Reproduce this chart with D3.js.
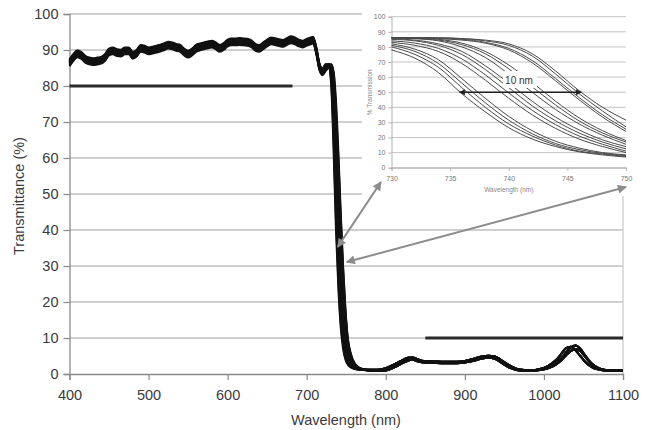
<!DOCTYPE html>
<html><head><meta charset="utf-8">
<script src="https://cdn.jsdelivr.net/npm/d3@7"></script>
<style>html,body{margin:0;padding:0;background:#fff;}svg{display:block;font-family:"Liberation Sans",Arial,sans-serif;}</style>
</head><body>
<script>
// ---------- DATA ----------
const xTicks = [400, 500, 600, 700, 800, 900, 1000, 1100];
const yTicks = [0, 10, 20, 30, 40, 50, 60, 70, 80, 90, 100];
const insetXTicks = [730, 735, 740, 745, 750];
const insetYTicks = [0, 10, 20, 30, 40, 50, 60, 70, 80, 90, 100];

// passband (shared shape) and per-curve level offsets
const passWl =   [400,405,410,415,420,425,430,435,440,445,450,455,460,465,470,475,480,485,490,495,500,505,510,515,520,525,530,535,540,545,550,555,560,565,570,575,580,585,590,595,600,605,610,615,620,625,630,635,640,645,650,655,660,665,670,675,680,685,690,695,700,705,708,712,716,720,724];
const passBase = [86.5,88,89,88.5,87.5,87,86.8,87,87.2,88,89.5,89.8,89.3,89.2,89.8,89.8,88.6,89.2,90.5,90.3,89.8,90,90.3,90.6,91,91.4,91.2,90.8,90.5,89.5,88.9,89.5,90.5,90.9,91.2,91.5,91.7,91.2,90.5,91,92,92.3,92.3,92.4,92.3,92.2,91.8,90.8,90.5,91.2,92,92.6,92.4,92.1,91.9,92.4,92.9,92.6,92,91.7,92.2,92.6,92.8,90,85.5,84,85.2];
const passOffset = [-1.0,-0.5,0.2,0.6,-0.8,0.0,0.4,0.9,-0.3,0.7,-0.6,0.1,0.5,-0.2,0.3];

// main-chart edge, per curve
const edgeWl = [728,731,734,737,740,743,746,749,752,756,760,766,772];
const mainEdge = [
  [85,80,62,40,24,13,7,4,2.6,1.8,1.4,1.2,1.1],
  [85,81,65,43,26,14.5,8,4.5,2.9,1.9,1.5,1.2,1.1],
  [85.5,82,68,47,29,16.5,9,5,3.1,2,1.5,1.2,1.1],
  [85.5,82.5,70,50,32,18.5,10.5,5.8,3.5,2.2,1.6,1.3,1.1],
  [85.5,83,72,53,35,21,12,6.6,3.9,2.4,1.7,1.3,1.1],
  [86,83.5,74,56,38,23.5,13.5,7.5,4.3,2.6,1.8,1.4,1.2],
  [86,84,75.5,58.5,41,26,15,8.4,4.8,2.9,2,1.4,1.2],
  [86,84.5,77,61,44,28.5,17,9.5,5.4,3.2,2.1,1.5,1.2],
  [86,85,78.5,63.5,47,31,19,10.5,6,3.5,2.3,1.5,1.2],
  [86,85,79.5,66,50,34,21,12,6.8,3.8,2.4,1.6,1.2],
  [86,85.5,80.5,68,53,37,23.5,13.5,7.5,4.2,2.6,1.6,1.2],
  [86,85.5,81.5,70,55.5,39.5,25.5,15,8.3,4.6,2.8,1.7,1.3],
  [86,86,82.5,72,58,42,27.5,16.5,9.2,5,3,1.7,1.3],
  [86,86,83.5,74,60,43.5,29,17.5,9.6,5.3,3.1,1.8,1.3],
  [86,86,84,76,62,45,30,18,10,5.5,3.2,1.8,1.3]
];

// blocking region
const tailWl = [780,790,800,810,820,828,834,840,848,860,875,890,900,910,920,930,938,945,955,965,975,985,995,1005,1015,1022,1028,1034,1040,1046,1052,1060,1068,1076,1085,1100];
const tailA = [1.1,1.0,1.3,2.2,3.3,4.1,4.3,3.8,3.4,3.3,3.2,3.2,3.4,3.9,4.5,4.8,4.5,3.6,2.2,1.3,1.0,1.0,1.4,2.2,3.8,5.6,7.2,7.6,6.6,5.0,3.4,2.0,1.3,1.0,1.0,1.0];
const tailB = [1.2,1.2,1.6,2.6,3.7,4.5,4.6,4.1,3.6,3.5,3.4,3.4,3.6,4.2,4.8,5.1,4.9,4.0,2.6,1.5,1.1,1.0,1.2,1.8,3.0,4.4,6.0,7.4,7.9,7.0,5.2,3.0,1.8,1.2,1.0,1.0];
const tailC = [0.9,0.8,1.0,1.8,2.9,3.7,4.0,3.5,3.2,3.1,3.0,3.0,3.2,3.6,4.2,4.5,4.2,3.3,1.9,1.1,0.9,0.9,1.1,1.6,2.6,3.8,5.2,6.4,6.9,6.4,4.8,2.8,1.6,1.1,0.9,0.9];
const tails = [tailA, tailB, tailC];

// inset curves, 730..750 nm step 2
const insetWl = [730,732,734,736,738,740,742,744,746,748,750];
const insetCurves = [
  [78,72.5,63,49,37,26.5,19,14,10.5,8.5,7],
  [80,75,66.5,53,40,29,21,15,11,9,7.5],
  [81,77,69,56,43,31.5,22.5,16,12,9.5,8],
  [82,78.5,71.5,59,46,34,24.5,17.5,13,10,8.5],
  [83,81,77,69,58,46,35,26,19,14,10],
  [84,82.5,79,72,61.5,49.5,38,28.5,21,15.5,11],
  [85,84,81,75,65,53,41,31,23,17,12.5],
  [85.5,84.5,82,77,67.5,56,44,33.5,25,18.5,14],
  [86,85.5,84,80,73,62,50,38.5,29,21.5,15.5],
  [86,85.5,84.5,81.5,75.5,65.5,53.5,41.5,31,23,17],
  [86,86,85,82.5,77,68,56.5,44,33,24.5,18],
  [86,86,86,85.5,84.5,82,75.5,64,51,40,31.5],
  [86,86,86,85.5,84,81,74,62,49,37.5,27],
  [86,86,85.5,85,83,79,71,59,46.5,35,25.5],
  [86,86,85.5,84.5,82.5,78,69.5,57.5,45,33.5,24]
];

// spec bars [from, to, level]
const specBars = [[400, 682, 80], [850, 1100, 10]];
// inset 10 nm marker
const markerSpan = [735.8, 746.2];
const markerLevel = 50;
// callout arrows: main-chart point -> inset point
const callouts = [
  {main: [739.3, 35.3], inset: [729.1, -9.5]},
  {main: [750.6, 31.1], inset: [750.0, -12.8]}
];

// ---------- DRAW ----------
const W = 648, H = 430;
const svg = d3.select("body").append("svg").attr("width", W).attr("height", H);
const x = d3.scaleLinear().domain([400, 1100]).range([69.5, 623]);
const y = d3.scaleLinear().domain([0, 100]).range([374, 14]);

// gridlines
svg.append("g").selectAll("line").data(yTicks.filter(d => d > 0)).join("line")
  .attr("x1", x(400)).attr("x2", x(1100)).attr("y1", d => y(d)).attr("y2", d => y(d))
  .attr("stroke", "#a0a0a0").attr("stroke-width", 1.2);
// right border
svg.append("line").attr("x1", x(1100)).attr("x2", x(1100)).attr("y1", y(100)).attr("y2", y(0))
  .attr("stroke", "#c8c8c8").attr("stroke-width", 1.2);

// axes
const gx = svg.append("g").attr("transform", `translate(0,${y(0)})`)
  .call(d3.axisBottom(x).tickValues(xTicks).tickFormat(d3.format("d")).tickSize(6).tickPadding(10));
const gy = svg.append("g").attr("transform", `translate(${x(400)},0)`)
  .call(d3.axisLeft(y).tickValues(yTicks).tickFormat(d3.format("d")).tickSize(6).tickPadding(5));
[gx, gy].forEach(g => {
  g.selectAll("path.domain").attr("stroke", "#8a8a8a").attr("stroke-width", 1.3);
  g.selectAll(".tick line").attr("stroke", "#8a8a8a").attr("stroke-width", 1.2);
  g.selectAll("text").attr("font-size", 14.5).attr("fill", "#3a3a3a")
    .attr("font-family", "'Liberation Sans',Arial,sans-serif");
});

svg.append("text").attr("x", 346).attr("y", 425).attr("text-anchor", "middle")
  .attr("font-size", 14.5).attr("fill", "#3a3a3a").text("Wavelength (nm)");
svg.append("text").attr("transform", "translate(24,196) rotate(-90)").attr("text-anchor", "middle")
  .attr("font-size", 14.5).attr("fill", "#3a3a3a").text("Transmittance (%)");

// spec bars
svg.append("g").selectAll("line").data(specBars).join("line")
  .attr("x1", d => x(d[0])).attr("x2", d => x(d[1])).attr("y1", d => y(d[2])).attr("y2", d => y(d[2]))
  .attr("stroke", "#2a2a2a").attr("stroke-width", 3);

// main curves
const curves = mainEdge.map((edge, i) => {
  const pts = [];
  passWl.forEach((w, j) => pts.push([w, passBase[j] + passOffset[i]]));
  edgeWl.forEach((w, j) => pts.push([w, edge[j]]));
  tailWl.forEach((w, j) => pts.push([w, tails[i % 3][j]]));
  return pts;
});
const line = d3.line().x(d => x(d[0])).y(d => y(d[1])).curve(d3.curveMonotoneX);
svg.append("g").selectAll("path").data(curves).join("path")
  .attr("d", line).attr("fill", "none").attr("stroke", "#111").attr("stroke-width", 2);

// ---------- INSET ----------
const ix = d3.scaleLinear().domain([730, 750]).range([391.5, 626]);
const iy = d3.scaleLinear().domain([0, 100]).range([167.7, 16.7]);
const inset = svg.append("g");
inset.append("rect").attr("x", 362).attr("y", 0).attr("width", W - 362).attr("height", 196).attr("fill", "#fff");
inset.append("g").selectAll("line").data(insetYTicks).join("line")
  .attr("x1", ix(730)).attr("x2", ix(750)).attr("y1", d => iy(d)).attr("y2", d => iy(d))
  .attr("stroke", "#c4c4c4").attr("stroke-width", 1);
const igx = inset.append("g").attr("transform", `translate(0,${iy(0)})`)
  .call(d3.axisBottom(ix).tickValues(insetXTicks).tickFormat(d3.format("d")).tickSize(3).tickPadding(5));
const igy = inset.append("g").attr("transform", `translate(${ix(730)},0)`)
  .call(d3.axisLeft(iy).tickValues(insetYTicks).tickFormat(d3.format("d")).tickSize(3).tickPadding(3));
[igx, igy].forEach(g => {
  g.selectAll("path.domain").attr("stroke", "#b0b0b0").attr("stroke-width", 1);
  g.selectAll(".tick line").attr("stroke", "#b0b0b0");
  g.selectAll("text").attr("font-size", 7).attr("fill", "#777")
    .attr("font-family", "'Liberation Sans',Arial,sans-serif");
});
inset.append("text").attr("x", ix(740)).attr("y", 192).attr("text-anchor", "middle")
  .attr("font-size", 6.5).attr("fill", "#888").text("Wavelength (nm)");
inset.append("text").attr("transform", `translate(372,${iy(50)}) rotate(-90)`).attr("text-anchor", "middle")
  .attr("font-size", 6.5).attr("fill", "#888").text("% Transmission");

const iline = d3.line().x((d, j) => ix(insetWl[j])).y(d => iy(d)).curve(d3.curveMonotoneX);
inset.append("g").selectAll("path").data(insetCurves).join("path")
  .attr("d", iline).attr("fill", "none").attr("stroke", "#4a4a4a").attr("stroke-width", 1);

// label with white box
inset.append("rect").attr("x", 503).attr("y", 71).attr("width", 34).attr("height", 17).attr("fill", "#fff");
inset.append("text").attr("x", 519).attr("y", 84).attr("text-anchor", "middle")
  .attr("font-size", 10).attr("fill", "#333").text("10 nm");

// markers
const defs = svg.append("defs");
function marker(id, color, w, h) {
  const m = defs.append("marker").attr("id", id).attr("viewBox", "0 0 10 10")
    .attr("refX", 9).attr("refY", 5).attr("markerWidth", w).attr("markerHeight", h)
    .attr("markerUnits", "userSpaceOnUse").attr("orient", "auto-start-reverse");
  m.append("path").attr("d", "M0,0 L10,5 L0,10 Z").attr("fill", color);
}
marker("blk", "#222", 7, 6);
marker("gry", "#8c8c8c", 12, 9);

inset.append("line").attr("x1", ix(markerSpan[0])).attr("x2", ix(markerSpan[1]))
  .attr("y1", iy(markerLevel)).attr("y2", iy(markerLevel))
  .attr("stroke", "#222").attr("stroke-width", 1.5)
  .attr("marker-start", "url(#blk)").attr("marker-end", "url(#blk)");

// callout arrows
svg.append("g").selectAll("line").data(callouts).join("line")
  .attr("x1", d => x(d.main[0])).attr("y1", d => y(d.main[1]))
  .attr("x2", d => ix(d.inset[0])).attr("y2", d => iy(d.inset[1]))
  .attr("stroke", "#8c8c8c").attr("stroke-width", 2)
  .attr("marker-start", "url(#gry)").attr("marker-end", "url(#gry)");
</script>
</body></html>
